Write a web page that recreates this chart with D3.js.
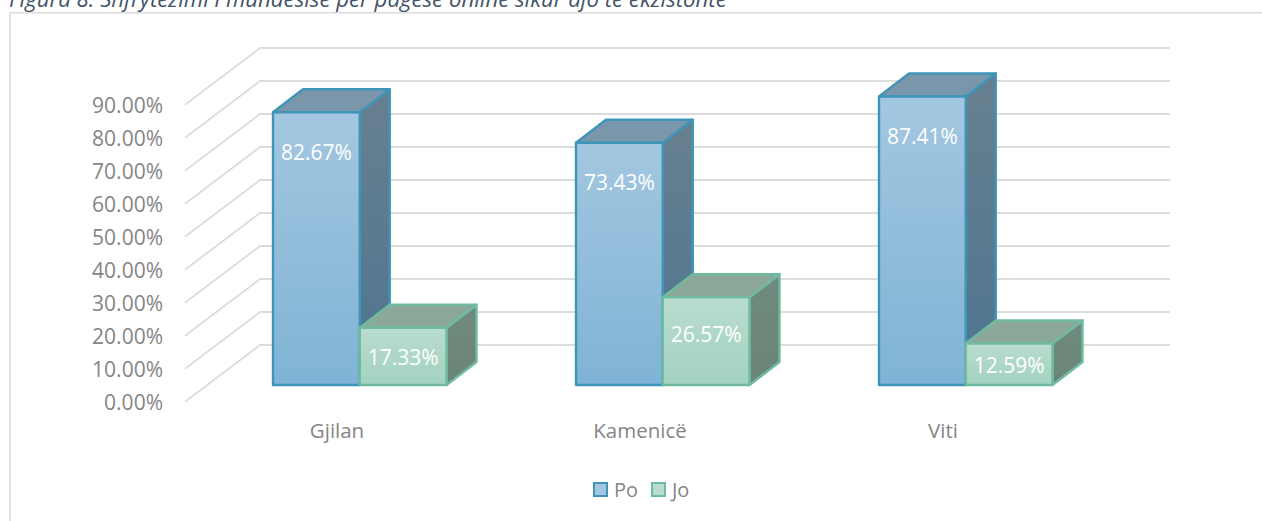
<!DOCTYPE html>
<html><head><meta charset="utf-8">
<script src="https://cdn.jsdelivr.net/npm/d3@7/dist/d3.min.js"></script>
<style>html,body{margin:0;padding:0;background:#fff;overflow:hidden}svg{display:block}text{font-family:"Open Sans",sans-serif}</style>
</head><body><svg id="c" width="1262" height="521"></svg>
<script>
const categories = ["Gjilan","Kamenicë","Viti"];
const seriesNames = ["Po","Jo"];
const po = [82.67,73.43,87.41];
const jo = [17.33,26.57,12.59];
const yTicks = [0,10,20,30,40,50,60,70,80,90];
const titleText = "Figura 8. Shfrytëzimi i mundësisë për pagesë online sikur ajo të ekzistonte";

const svg = d3.select("#c");
const defs = svg.append("defs");
function grad(id,a,b){const g=defs.append("linearGradient").attr("id",id).attr("x1",0).attr("y1",0).attr("x2",0).attr("y2",1);
  g.append("stop").attr("offset","0%").attr("stop-color",a);g.append("stop").attr("offset","100%").attr("stop-color",b);}
grad("poFront","#a3c7e0","#7fb3d5");
grad("joFront","#b9dccf","#a3d2c0");
grad("poSide","#67808f","#4e7590");
grad("joSide","#6f8a7e","#6b8478");

const y = d3.scaleLinear().domain([0,90]).range([385,88]);
const x = d3.scaleBand().domain(categories).range([122,1031]);
const inner = d3.scaleBand().domain(seriesNames).range([0,173.5]);
const depthX=30, depthY=-23;

// frame
svg.append("path").attr("d","M10,521V12.7H1262").attr("fill","none").attr("stroke","#dcdcdc").attr("stroke-width",1.6);
// title
svg.append("text").attr("x",9).attr("y",7).attr("font-size",22.2).attr("font-style","italic").attr("fill","#44546a").text(titleText);

// gridlines
const floorFront=16.7, floorBack=-40;
svg.append("g").selectAll("path").data(yTicks).join("path")
  .attr("d",d=>`M185,${y(d)+floorFront}L260,${y(d)+floorBack}H1170`)
  .attr("fill","none").attr("stroke","#dcdcdc").attr("stroke-width",1.8);
// tick labels
svg.append("g").selectAll("text").data(yTicks).join("text")
  .attr("x",163).attr("y",d=>y(d)+floorFront+8).attr("text-anchor","end").attr("font-size",21).attr("fill","#858585")
  .text(d=>d.toFixed(2)+"%");

const series=[{name:"Po",vals:po,front:"url(#poFront)",side:"url(#poSide)",top:"#7a96aa",stroke:"#3f95b8",swatch:"#a3c7e0"},
              {name:"Jo",vals:jo,front:"url(#joFront)",side:"url(#joSide)",top:"#8ba89b",stroke:"#6fbba0",swatch:"#b9dccf"}];
categories.forEach((c,i)=>{
  const cx=x(c)+151;
  series.forEach(s=>{
    const x0=cx+inner(s.name), w=inner.bandwidth(), v=s.vals[i], t=y(v), b=y(0), h=b-t;
    const g=svg.append("g").attr("stroke",s.stroke).attr("stroke-width",2.4).attr("stroke-linejoin","round");
    g.append("path").attr("d",`M${x0+w},${t}l${depthX},${depthY}V${b+depthY}L${x0+w},${b}Z`).attr("fill",s.side);
    g.append("path").attr("d",`M${x0},${t}l${depthX},${depthY}H${x0+w+depthX}L${x0+w},${t}Z`).attr("fill",s.top);
    g.append("rect").attr("x",x0).attr("y",t).attr("width",w).attr("height",h).attr("fill",s.front);
  });
});
// data labels drawn after all bars
categories.forEach((c,i)=>{
  const cx=x(c)+151;
  series.forEach(s=>{
    const x0=cx+inner(s.name), w=inner.bandwidth(), v=s.vals[i], t=y(v), h=y(0)-t;
    const off = h<60 ? h/2+1 : h<100 ? 37 : 40;
    svg.append("text").attr("x",x0+w/2).attr("y",t+off+7.5).attr("text-anchor","middle").attr("font-size",21).attr("fill","#fff").text(v.toFixed(2)+"%");
  });
  svg.append("text").attr("x",cx+64).attr("y",438).attr("text-anchor","middle").attr("font-size",20.5).attr("fill","#858585").text(c);
});
// legend
const lx={Po:594,Jo:652};
series.forEach(s=>{
  svg.append("rect").attr("x",lx[s.name]).attr("y",483).attr("width",13).attr("height",13).attr("fill",s.swatch).attr("stroke",s.stroke).attr("stroke-width",2);
  svg.append("text").attr("x",lx[s.name]+20).attr("y",497).attr("font-size",20).attr("fill","#858585").text(s.name);
});
</script></body></html>
